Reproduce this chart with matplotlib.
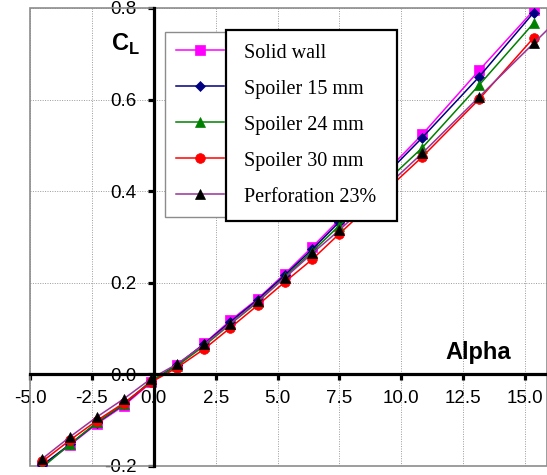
import matplotlib
matplotlib.use("Agg")
import matplotlib.pyplot as plt
from matplotlib.patches import Rectangle
from matplotlib.lines import Line2D

# ── Data ──────────────────────────────────────────────────────────────────────
alpha = [-4.5, -3.4, -2.3, -1.2, -0.1, 0.95, 2.05, 3.1, 4.2, 5.3, 6.4, 7.5,
         10.85, 13.15, 15.35]
alpha_perf = alpha + [17.6]   # last point lies beyond the right edge

cl_solid = [-0.200, -0.155, -0.108, -0.068, -0.017, 0.020, 0.068, 0.118,
            0.165, 0.220, 0.278, 0.338, 0.524, 0.664, 0.795]
cl_sp15 = [-0.198, -0.153, -0.106, -0.065, -0.015, 0.021, 0.067, 0.115,
           0.163, 0.217, 0.273, 0.333, 0.517, 0.650, 0.790]
cl_sp24 = [-0.203, -0.153, -0.105, -0.064, -0.014, 0.019, 0.063, 0.110,
           0.158, 0.213, 0.268, 0.325, 0.495, 0.632, 0.767]
cl_sp30 = [-0.190, -0.144, -0.101, -0.062, -0.017, 0.015, 0.056, 0.102,
           0.151, 0.202, 0.251, 0.307, 0.475, 0.601, 0.735]
cl_perf = [-0.184, -0.137, -0.093, -0.053, -0.009, 0.023, 0.066, 0.111,
           0.160, 0.211, 0.264, 0.315, 0.483, 0.606, 0.723, 0.843]

labels = ["Solid wall", "Spoiler 15 mm", "Spoiler 24 mm", "Spoiler 30 mm",
          "Perforation 23%"]

x_ticks = [-5.0, -2.5, 0.0, 2.5, 5.0, 7.5, 10.0, 12.5, 15.0]
y_ticks = [-0.2, 0.0, 0.2, 0.4, 0.6, 0.8]

# ── Figure ────────────────────────────────────────────────────────────────────
plt.rcParams["font.family"] = "Liberation Sans"
plt.rcParams["mathtext.fontset"] = "custom"
plt.rcParams["mathtext.rm"] = "Liberation Sans"
plt.rcParams["mathtext.bf"] = "Liberation Sans:bold"

W, H = 547, 475
fig = plt.figure(figsize=(W / 100, H / 100), dpi=100)
ax = fig.add_axes([30 / W, 9 / H, 517 / W, 458 / H])

# (x, y, line colour, marker, marker colour, marker size)
styles = [
    (alpha, cl_solid, "#FF00FF", "s", "#FF00FF", 6.6),
    (alpha, cl_sp15, "#000080", "D", "#000080", 5.0),
    (alpha, cl_sp24, "#008000", "^", "#008000", 7.5),
    (alpha, cl_sp30, "#FF0000", "o", "#FF0000", 7.0),
    (alpha_perf, cl_perf, "#993399", "^", "#000000", 7.5),
]

handles = []
for (xs, ys, lc, mk, mc, ms), lab in zip(styles, labels):
    h, = ax.plot(xs, ys, color=lc, linewidth=1.1, marker=mk, markersize=ms,
                 markerfacecolor=mc, markeredgecolor=mc, markeredgewidth=0.5,
                 label=lab, zorder=3)
    handles.append(h)

ax.set_xlim(-5.0, -5.0 + 517 / 24.75)
ax.set_ylim(-0.2, 0.8)

# zero axes: thick black, ticks outward
for side in ("top", "right"):
    ax.spines[side].set_visible(False)
ax.spines["left"].set_position(("data", 0))
ax.spines["bottom"].set_position(("data", 0))
for side in ("left", "bottom"):
    ax.spines[side].set_linewidth(2.3)
    ax.spines[side].set_color("black")
    ax.spines[side].set_zorder(4)

ax.set_xticks(x_ticks)
ax.set_yticks(y_ticks)
ax.set_xticklabels([f"{v:.1f}" for v in x_ticks])
ax.set_yticklabels([f"{v:.1f}" for v in y_ticks])
ax.tick_params(axis="both", direction="out", length=4.5, width=2.3,
               labelsize=13.5, colors="black")
ax.tick_params(axis="x", pad=7)
ax.tick_params(axis="y", pad=8)

ax.grid(True, color="#9a9a9a", linestyle=(0, (1, 1.5)), linewidth=0.7)
ax.set_axisbelow(True)

# plot-area frame (grey)
ax.add_patch(Rectangle((0, 0), 1, 1, transform=ax.transAxes, fill=False,
                       edgecolor="#8c8c8c", linewidth=1.2, clip_on=False,
                       zorder=1))

ax.text((111 - 30) / 517, (466 - 44) / 458, r"$\mathbf{C}_{\mathbf{L}}$",
        transform=ax.transAxes, fontsize=17, ha="left", va="center")
ax.text((445 - 30) / 517, (466 - 352) / 458, "Alpha", transform=ax.transAxes,
        fontsize=17, fontweight="bold", ha="left", va="center")

# ── Legend: handle box (grey frame) overlapped by a text box (black frame) ───
leg_fs = 14.5
leg_prop = {"family": "Liberation Serif", "size": leg_fs}
eps = 0.001

leg1 = ax.legend(handles, [" "] * len(labels), loc="upper left",
                 bbox_to_anchor=(165 / W, 1 - 32 / H - eps, (300 - 165) / W, eps),
                 bbox_transform=fig.transFigure, mode="expand", prop=leg_prop,
                 handlelength=2.4, handletextpad=0.2,
                 borderpad=0.55, labelspacing=0.84, borderaxespad=0,
                 fancybox=False, framealpha=1, edgecolor="#8c8c8c")
leg1.get_frame().set_linewidth(1.0)
ax.add_artist(leg1)

blank = [Line2D([], [], linestyle="none", marker=None) for _ in labels]
leg2 = ax.legend(blank, labels, loc="upper left",
                 bbox_to_anchor=(226 / W, 1 - 30 / H - eps, (397 - 226) / W, eps),
                 bbox_transform=fig.transFigure, mode="expand", prop=leg_prop,
                 handlelength=0, handletextpad=0.22, borderpad=0.68,
                 labelspacing=0.84, borderaxespad=0,
                 fancybox=False, framealpha=1, edgecolor="black")
leg2.get_frame().set_linewidth(1.6)

fig.savefig("out.png", dpi=100)
